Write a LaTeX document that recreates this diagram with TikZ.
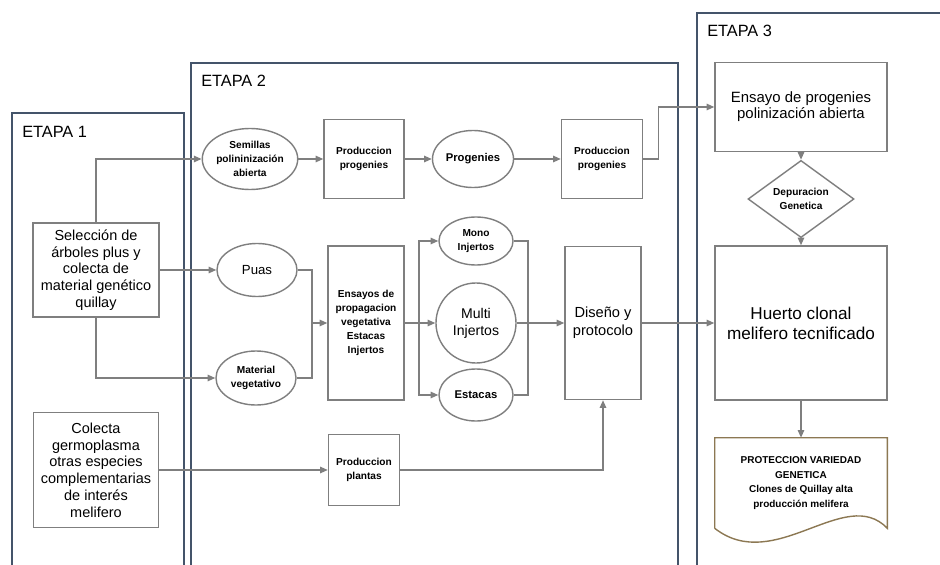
\documentclass[tikz,border=0pt]{standalone}
\usepackage{fontspec}
\setmainfont{Liberation Sans}
\usepackage{tikz}
\usetikzlibrary{positioning,arrows.meta,shapes.geometric,calc}
\definecolor{frame}{HTML}{44546A}
\definecolor{edge}{HTML}{7F7F7F}
\definecolor{paper}{HTML}{8C7853}
\tikzset{
  stage/.style   ={draw=frame, line width=1.2pt},
  stagelbl/.style={anchor=base west, inner sep=0pt, font=\fontsize{11.6}{14}\selectfont},
  box/.style     ={draw=edge, fill=white, line width=1pt, align=center, inner sep=1pt},
  oval/.style    ={ellipse, draw=edge, fill=white, line width=1pt, align=center, inner sep=0pt},
  txtbig/.style  ={font=\fontsize{10.3}{11.9}\selectfont},
  txtsmall/.style={font=\fontsize{7.2}{10}\selectfont\bfseries},
  txtmid/.style  ={font=\fontsize{8}{10}\selectfont\bfseries},
  flowarr/.style ={-{Triangle[length=1.9mm,width=1.6mm]}, draw=edge, line width=1pt},
  joinline/.style={draw=edge, line width=1pt},
}

\begin{document}
\begin{tikzpicture}[x=0.025cm, y=-0.025cm]
\useasboundingbox (0,0) rectangle (940,565);

% etapas
\draw[stage] (12,565) |- (184,113) -- (184,565);
\draw[stage] (191,565) |- (678,63) -- (678,565);
\draw[stage] (697,565) |- (940,13);
\node[stagelbl] (t1) at (22,138) {ETAPA 1};
\node[stagelbl] (t2) at (201,87) {ETAPA 2};
\node[stagelbl] (t3) at (707,37) {ETAPA 3};

% etapa 1
\node[box, txtbig, minimum width=3.15cm, minimum height=2.35cm] (sel) at (96,270)
  {Selección de\\árboles plus y\\colecta de\\material genético\\quillay};
\node[box, txtbig, minimum width=3.125cm, minimum height=2.875cm] (col) at (96,470)
  {Colecta\\germoplasma\\otras especies\\complementarias\\de interés\\melifero};

% etapa 2
\node[oval, txtsmall, minimum width=2.35cm, minimum height=1.525cm] (sem) at (250,159) {Semillas\\polininización\\abierta};
\node[box, txtsmall, minimum width=2cm, minimum height=1.975cm] (pp1) at (364,159) {Produccion\\progenies};
\node[oval, txtmid, minimum width=2.025cm, minimum height=1.425cm] (prg) at (473,159) {Progenies};
\node[box, txtsmall, minimum width=2.025cm, minimum height=1.975cm] (pp2) at (602,159) {Produccion\\progenies};
\node[oval, font=\fontsize{9.4}{11}\selectfont, minimum width=2cm, minimum height=1.325cm] (puas) at (257,270) {Puas};
\node[oval, txtsmall, minimum width=2cm, minimum height=1.35cm] (mat) at (256,378) {Material\\vegetativo};
\node[box, txtsmall, minimum width=1.9cm, minimum height=3.85cm] (ensv) at (366,323)
  {Ensayos de\\propagacion\\vegetativa\\Estacas\\Injertos};
\node[oval, txtsmall, minimum width=1.85cm, minimum height=1.2cm] (mono) at (476,241) {Mono\\Injertos};
\node[circle, draw=edge, fill=white, line width=1pt, align=center, inner sep=0pt,
  minimum size=2cm, font=\fontsize{10}{12}\selectfont] (multi) at (476,323) {Multi\\Injertos};
\node[oval, txtmid, minimum width=1.85cm, minimum height=1.3cm] (est) at (476,395) {Estacas};
\node[box, font=\fontsize{10.4}{12.8}\selectfont, minimum width=1.9cm, minimum height=3.825cm] (dis) at (603,323)
  {Diseño y\\protocolo};
\node[box, txtsmall, minimum width=1.775cm, minimum height=1.775cm] (plant) at (364,470) {Produccion\\plantas};

% etapa 3
\node[box, font=\fontsize{10.6}{11.5}\selectfont, minimum width=4.3cm, minimum height=2.225cm] (ensp) at (801,107)
  {Ensayo de progenies\\polinización abierta};
\node[diamond, draw=edge, fill=white, line width=1pt, align=center, inner sep=0pt, txtsmall,
  minimum width=2.65cm, minimum height=1.55cm] (dep) at (801,199) {Depuracion\\Genetica};
\node[box, font=\fontsize{12.2}{14.2}\selectfont, minimum width=4.3cm, minimum height=3.85cm] (hue) at (801,323)
  {Huerto clonal\\melifero tecnificado};
\node[align=center, inner sep=0pt, font=\fontsize{7.1}{10.4}\selectfont\bfseries,
  minimum width=4.3cm, minimum height=2.25cm] (doc) at (801,483)
  {PROTECCION VARIEDAD\\GENETICA\\Clones de Quillay alta\\producción melifera};
\draw[draw=paper, line width=1pt] (doc.south west) -- (doc.north west) -- (doc.north east) -- (doc.south east)
  .. controls +(-42,-44) and +(60,47) .. (doc.south west);

% conexiones
\coordinate (jin) at (312,323);
\coordinate (jsplit) at (419,323);
\coordinate (jout) at (528,323);
\draw[flowarr] (sel.north) |- (sem.west);
\draw[flowarr] (sel.east) -- (puas.west);
\draw[flowarr] (sel.south) |- (mat.west);
\draw[flowarr] (col.east) -- (plant.west);
\draw[flowarr] (sem) -- (pp1);
\draw[flowarr] (pp1) -- (prg);
\draw[flowarr] (prg) -- (pp2);
\draw[flowarr] (pp2.east) -- ++(15,0) |- (ensp.west);
\draw[joinline] (puas.east) -| (jin);
\draw[joinline] (mat.east) -| (jin);
\draw[flowarr] (jin) -- (ensv.west);
\draw[flowarr] (ensv) -- (multi);
\draw[flowarr] (jsplit) |- (mono.west);
\draw[flowarr] (jsplit) |- (est.west);
\draw[joinline] (mono.east) -| (jout);
\draw[joinline] (est.east) -| (jout);
\draw[flowarr] (multi) -- (dis);
\draw[flowarr] (dis) -- (hue);
\draw[flowarr] (plant.east) -| (dis.south);
\draw[flowarr] (ensp) -- (dep);
\draw[flowarr] (dep) -- (hue);
\draw[flowarr] (hue) -- (doc.north);
\end{tikzpicture}
\end{document}
